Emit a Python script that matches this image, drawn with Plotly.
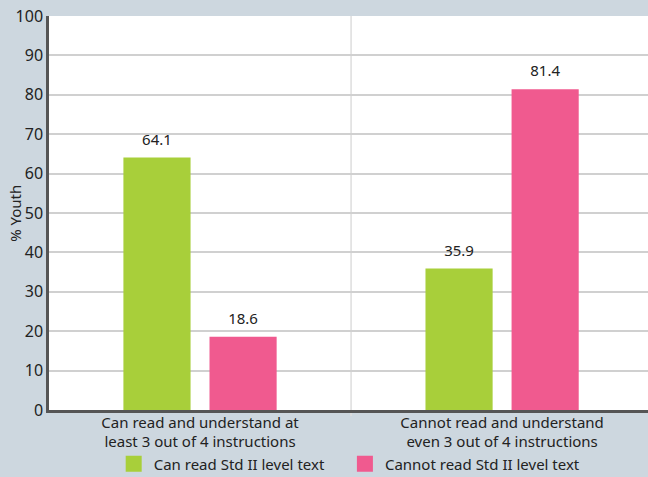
import plotly.graph_objects as go

categories = ["Can read and understand at<br>least 3 out of 4 instructions",
              "Cannot read and understand<br>even 3 out of 4 instructions"]
series_names = ["Can read Std II level text", "Cannot read Std II level text"]
can_read = [64.1, 35.9]
cannot_read = [18.6, 81.4]
colors = ["#a8cf3a", "#f05a8f"]
y_ticks = [0, 10, 20, 30, 40, 50, 60, 70, 80, 90, 100]
y_title = "% Youth"

FONT = "Noto Sans"
TXT = "#222222"
BG = "#cdd7df"
PAD = "\u00a0" * 4

fig = go.Figure()
for name, vals, col in zip(series_names, [can_read, cannot_read], colors):
    fig.add_trace(go.Bar(
        x=categories, y=vals, name=name, marker=dict(color=col, line=dict(width=0)),
        offsetgroup=name, showlegend=False, hoverinfo="skip"))
for name, vals, col in zip(series_names, [can_read, cannot_read], colors):
    fig.add_trace(go.Scatter(
        x=categories, y=vals, name=name, mode="markers+text",
        offsetgroup=name,
        text=[f"{v:.1f}" for v in vals], textposition="top center",
        textfont=dict(size=15, color=TXT, family=FONT),
        marker=dict(symbol="square", size=13, color=col, opacity=0),
        showlegend=False, hoverinfo="skip"))
for i, (name, col) in enumerate(zip(series_names, colors)):
    fig.add_trace(go.Scatter(
        x=[None], y=[None], name=name + (PAD if i == 0 else ""), mode="markers",
        marker=dict(symbol="square", size=20, color=col),
        showlegend=True))

fig.add_shape(type="line", xref="x", yref="paper", x0=0.5, x1=0.5, y0=-0.015, y1=1,
              line=dict(color="#dddddd", width=1.5), layer="below")

fig.add_annotation(text=y_title, textangle=-90, xref="paper", yref="paper",
                   x=-0.057, y=0.5, xanchor="center", yanchor="middle", showarrow=False,
                   font=dict(size=15, color=TXT, family=FONT))

fig.update_layout(
    width=648, height=477,
    margin=dict(l=49, r=0, t=16, b=67, autoexpand=False),
    paper_bgcolor=BG, plot_bgcolor="#ffffff",
    barmode="group", bargap=0.43, bargroupgap=0.22,
    scattermode="group", scattergap=0.43,
    font=dict(family=FONT, size=15, color=TXT),
    legend=dict(orientation="h", x=0.108, xanchor="left", y=-0.137, yanchor="middle",
                bgcolor="rgba(0,0,0,0)",
                font=dict(size=15, color=TXT, family=FONT),
                itemsizing="trace", traceorder="normal"),
    xaxis=dict(type="category", range=[-0.5, 1.483], showgrid=False, automargin=False,
               showline=True, linecolor="#555555", linewidth=2.5,
               ticks="", ticklabelstandoff=-3,
               tickfont=dict(size=15, color=TXT, family=FONT)),
    yaxis=dict(range=[0, 100], tickvals=y_ticks, showgrid=True, gridcolor="#d0d0d0",
               gridwidth=1.5, showline=True, linecolor="#555555", linewidth=2.5,
               zeroline=False, ticks="", ticklabelstandoff=0, automargin=False,
               tickfont=dict(size=16, color=TXT, family=FONT)),
)

fig.write_html("out.html", config={"displayModeBar": False},
               post_script=f"document.body.style.margin='0';document.body.style.background='{BG}';")
